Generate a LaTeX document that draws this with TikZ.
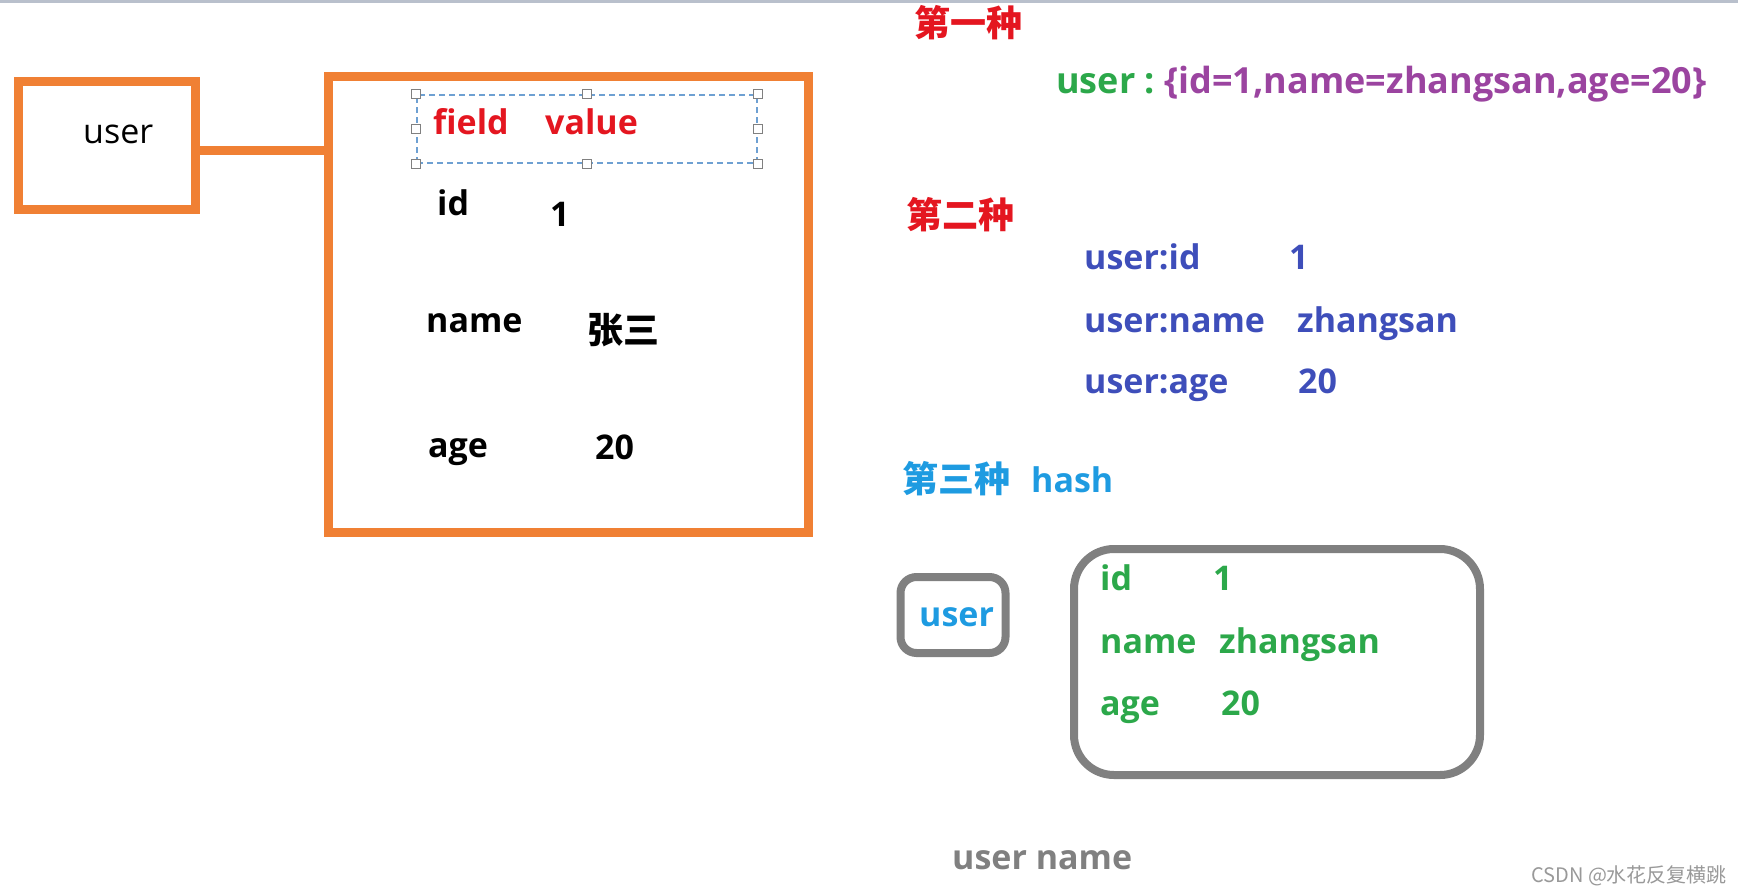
\documentclass[tikz,border=0pt]{standalone}
\usepackage{fontspec}
\setmainfont{Open Sans}
\newfontfamily\cjk{Noto Sans CJK SC}
\usepackage{tikz}
\usetikzlibrary{positioning}
\definecolor{box-orange}{RGB}{240,128,52}
\definecolor{key-red}{RGB}{228,22,32}
\definecolor{key-green}{RGB}{44,168,74}
\definecolor{key-purple}{RGB}{155,68,160}
\definecolor{key-blue}{RGB}{62,78,186}
\definecolor{key-cyan}{RGB}{30,155,225}
\definecolor{box-gray}{RGB}{128,128,128}
\definecolor{sel-blue}{RGB}{110,160,210}
\definecolor{top-line}{RGB}{185,192,204}

\begin{document}
\begin{tikzpicture}[x=1pt,y=-1pt,
  obox/.style={draw=box-orange,line width=9pt,inner sep=0pt},
  gbox/.style={draw=box-gray,line width=8pt,rounded corners=#1,inner sep=0pt},
  oline/.style={draw=box-orange,line width=9pt},
  txt/.style={inner sep=0pt,anchor=base west,font=\fontsize{34}{40}\selectfont\bfseries},
  han/.style={inner sep=0pt,anchor=west,font=\fontsize{36}{42}\selectfont\cjk\bfseries},
  handle/.style={draw=gray,fill=white,line width=1.2pt,minimum size=9pt,inner sep=0pt}
]
  \useasboundingbox (0,0) rectangle (1738,894);
  \draw[top-line,line width=3pt] (0,1.5) -- (1738,1.5);

  % left: one key per user, fields inside
  \node[obox,minimum width=177pt,minimum height=128pt] (userbox) at (107,145) {};
  \node[obox,minimum width=480pt,minimum height=456pt] (fieldbox) at (568,304) {};
  \draw[oline] ([yshift=-5pt]userbox.east) -- ([yshift=-5pt]userbox.east -| fieldbox.west);
  \node[txt,font=\fontsize{34}{40}\selectfont] (userkey) at (83,143) {user};

  \node[draw=sel-blue,line width=1.5pt,dash pattern=on 6pt off 4pt,
        minimum width=340pt,minimum height=68pt,inner sep=0pt] (sel) at (587,129) {};
  \foreach \a in {north west,north,north east,east,south east,south,south west,west}
    \node[handle] at (sel.\a) {};
  \node[txt,key-red] (field) at (433,134) {field};
  \node[txt,key-red] (value) at (545,134) {value};

  \node[txt] (fid)    at (437,215) {id};
  \node[txt] (vid)    at (550,226) {1};
  \node[txt] (fname)  at (426,332) {name};
  \node[han] (vname)  at (587,330) {张三};
  \node[txt] (fage)   at (428,457) {age};
  \node[txt] (vage)   at (595,459) {20};

  % right: first way
  \node[han,key-red] (way1) at (914,23) {第一种};
  \node[txt,font=\fontsize{36}{42}\selectfont\bfseries] (json) at (1056,93)
    {\color{key-green}user :\ \color{key-purple}\{id=1,name=zhangsan,age=20\}};

  % second way
  \node[han,key-red] (way2) at (906,215) {第二种};
  \node[txt,key-blue] (k1) at (1084,269) {user:id};
  \node[txt,key-blue] (v1) at (1289,269) {1};
  \node[txt,key-blue] (k2) at (1084,332) {user:name};
  \node[txt,key-blue] (v2) at (1297,332) {zhangsan};
  \node[txt,key-blue] (k3) at (1084,393) {user:age};
  \node[txt,key-blue] (v3) at (1298,393) {20};

  % third way
  \node[han,key-cyan] (way3) at (902,479) {第三种};
  \node[txt,key-cyan] (hash) at (1031,492) {hash};
  \node[gbox=16pt,minimum width=105pt,minimum height=76pt] (hkey) at (953,615) {};
  \node[txt,key-cyan] at (919,626) {user};
  \node[gbox=40pt,minimum width=406pt,minimum height=226pt] (hval) at (1277,662) {};
  \node[txt,key-green] (hf1) at (1100,590) {id};
  \node[txt,key-green] (hv1) at (1213,590) {1};
  \node[txt,key-green] (hf2) at (1100,653) {name};
  \node[txt,key-green] (hv2) at (1219,653) {zhangsan};
  \node[txt,key-green] (hf3) at (1100,715) {age};
  \node[txt,key-green] (hv3) at (1221,715) {20};

  \node[txt,box-gray] (uname) at (952,869) {user name};
  \node[inner sep=0pt,anchor=base west,text=gray!80,
        font=\fontsize{20}{24}\selectfont\cjk] (mark) at (1531,882) {CSDN @水花反复横跳};
\end{tikzpicture}
\end{document}
